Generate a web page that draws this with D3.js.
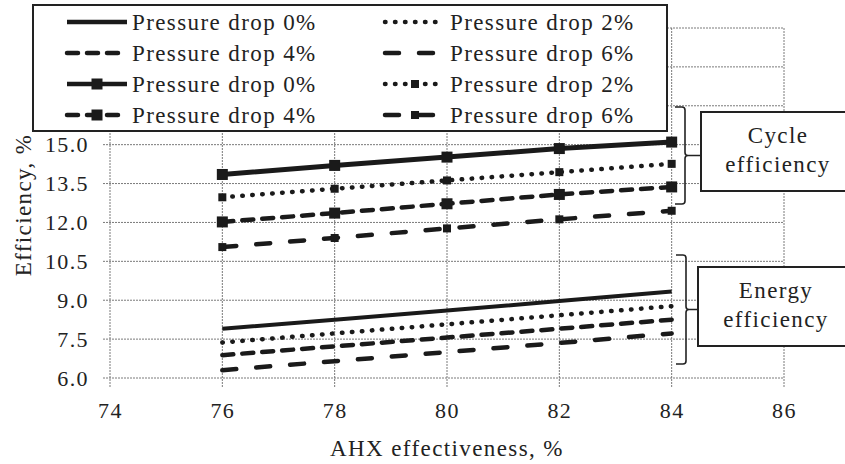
<!DOCTYPE html>
<html><head><meta charset="utf-8">
<script src="https://cdn.jsdelivr.net/npm/d3@7/dist/d3.min.js"></script>
<style>
html,body{margin:0;padding:0;background:#fff;}
svg{display:block;}
svg text{font-family:"Liberation Serif","Times New Roman",Times,serif !important;letter-spacing:1.4px;}
</style></head>
<body><svg id="c" width="845" height="464"></svg>
<script>
// ---- data ----
const xValues = [76, 78, 80, 82, 84];
const xTicks = [74, 76, 78, 80, 82, 84, 86];
const yTicks = [6.0, 7.5, 9.0, 10.5, 12.0, 13.5, 15.0, 16.5, 18.0, 19.5];
const seriesLabels = ["Pressure drop 0%", "Pressure drop 2%", "Pressure drop 4%", "Pressure drop 6%"];
const cycle0 = [13.85, 14.2, 14.52, 14.85, 15.1];
const cycle2 = [12.97, 13.3, 13.62, 13.94, 14.26];
const cycle4 = [12.02, 12.36, 12.72, 13.08, 13.37];
const cycle6 = [11.05, 11.4, 11.77, 12.12, 12.45];
const energy0 = [7.9, 8.25, 8.6, 8.97, 9.34];
const energy2 = [7.37, 7.72, 8.07, 8.42, 8.77];
const energy4 = [6.88, 7.22, 7.56, 7.9, 8.25];
const energy6 = [6.3, 6.65, 7.0, 7.35, 7.72];
const xTitle = "AHX effectiveness, %";
const yTitle = "Efficiency, %";

// ---- styles ----
const FONT = '"Liberation Serif","Times New Roman",Times,serif';
const dashes = ["", "0.5,9.5", "11,9", "14,20"];
const markerSizes = [11, 8, 11, 8];

const svg = d3.select("#c");
const x = d3.scaleLinear().domain([74, 86]).range([110, 784]);
const y = d3.scaleLinear().domain([6, 19.5]).range([378, 28]);

// grid (dotted, with tick extensions)
const grid = svg.append("g").attr("stroke", "#7a7a7a").attr("stroke-width", 1).attr("stroke-dasharray", "2,1");
grid.selectAll("line.v").data(xTicks).join("line")
  .attr("x1", d => x(d)).attr("x2", d => x(d))
  .attr("y1", y(19.5)).attr("y2", y(6) + 9);
grid.selectAll("line.h").data(yTicks).join("line")
  .attr("y1", d => y(d)).attr("y2", d => y(d))
  .attr("x1", x(74) - 7).attr("x2", x(86));

// axes labels via d3 axes
const xAxis = svg.append("g").attr("transform", `translate(0,${y(6)})`)
  .call(d3.axisBottom(x).tickValues(xTicks).tickFormat(d3.format("d")).tickSize(0).tickPadding(24));
xAxis.attr("font-family", FONT);
xAxis.select(".domain").remove();
xAxis.selectAll("text").attr("font-size", 22).attr("fill", "#222");

const yAxis = svg.append("g").attr("transform", `translate(${x(74)},0)`)
  .call(d3.axisLeft(y).tickValues(yTicks).tickFormat(d3.format(".1f")).tickSize(0).tickPadding(21));
yAxis.attr("font-family", FONT);
yAxis.select(".domain").remove();
yAxis.selectAll("text").attr("font-size", 22).attr("fill", "#222");

// titles
svg.append("text").attr("x", 447).attr("y", 456).attr("text-anchor", "middle")
  .attr("font-size", 23).attr("fill", "#222").text(xTitle);
svg.append("text").attr("transform", "translate(31,205) rotate(-90)").attr("text-anchor", "middle")
  .attr("font-size", 23).attr("fill", "#222").text(yTitle);

// lines
const line = d3.line().x((d, i) => x(xValues[i])).y(d => y(d));
const energySeries = [energy0, energy2, energy4, energy6];
const cycleSeries = [cycle0, cycle2, cycle4, cycle6];

energySeries.forEach((s, k) => {
  svg.append("path").datum(s).attr("d", line).attr("fill", "none")
    .attr("stroke", "#1a1a1a").attr("stroke-width", k === 0 ? 4 : 4.5)
    .attr("stroke-linecap", k === 0 ? "butt" : "round")
    .attr("stroke-dasharray", dashes[k] || null);
});
cycleSeries.forEach((s, k) => {
  svg.append("path").datum(s).attr("d", line).attr("fill", "none")
    .attr("stroke", "#1a1a1a").attr("stroke-width", k === 0 ? 5 : 4.5)
    .attr("stroke-linecap", k === 0 ? "butt" : "round")
    .attr("stroke-dasharray", dashes[k] || null);
  const m = markerSizes[k];
  svg.append("g").selectAll("rect").data(s).join("rect")
    .attr("x", (d, i) => x(xValues[i]) - m / 2).attr("y", d => y(d) - m / 2)
    .attr("width", m).attr("height", m).attr("fill", "#1a1a1a");
});

// brackets and boxes
function bracket(xl, xv, xm, y0, y1) {
  const ym = (y0 + y1) / 2, r = 3;
  const p = d3.path();
  p.moveTo(xl, y0); p.lineTo(xv - r, y0); p.quadraticCurveTo(xv, y0, xv, y0 + r);
  p.lineTo(xv, ym - r); p.quadraticCurveTo(xv, ym, xv + r, ym); p.lineTo(xm, ym);
  p.moveTo(xv + r, ym); p.quadraticCurveTo(xv, ym, xv, ym + r);
  p.lineTo(xv, y1 - r); p.quadraticCurveTo(xv, y1, xv - r, y1); p.lineTo(xl, y1);
  svg.append("path").attr("d", p.toString()).attr("fill", "none").attr("stroke", "#222").attr("stroke-width", 1.6);
}
bracket(675, 685, 700, 107, 204);
bracket(676, 686, 698, 255, 364);

function box(x0, y0, y1, lines, cx, base) {
  svg.append("rect").attr("x", x0).attr("y", y0).attr("width", 200).attr("height", y1 - y0)
    .attr("fill", "#fff").attr("stroke", "#222").attr("stroke-width", 2);
  lines.forEach((t, i) => svg.append("text").attr("x", cx).attr("y", base + i * 29)
    .attr("text-anchor", "middle").attr("font-size", 23).attr("fill", "#222").text(t));
}
box(701, 112, 191, ["Cycle", "efficiency"], 778, 143);
box(698, 267, 346, ["Energy", "efficiency"], 776, 298);

// legend
const lg = svg.append("g");
lg.append("rect").attr("x", 33).attr("y", 5).attr("width", 634).attr("height", 126)
  .attr("fill", "#fff").attr("stroke", "#222").attr("stroke-width", 2);
const legendItems = [];
[0, 1, 2, 3].forEach(k => legendItems.push({k, marker: false}));
[0, 1, 2, 3].forEach(k => legendItems.push({k, marker: true}));
legendItems.forEach((it, i) => {
  const col = i % 2, row = Math.floor(i / 2);
  const x0 = col === 0 ? 67 : 385, x1 = x0 + 60, yy = 22 + row * 31;
  lg.append("line").attr("x1", x0).attr("x2", x1).attr("y1", yy).attr("y2", yy)
    .attr("stroke", "#1a1a1a").attr("stroke-width", 4.5)
    .attr("stroke-linecap", it.k === 0 ? "butt" : "round")
    .attr("stroke-dasharray", dashes[it.k] || null);
  if (it.marker) {
    const m = markerSizes[it.k];
    lg.append("rect").attr("x", (x0 + x1) / 2 - m / 2).attr("y", yy - m / 2)
      .attr("width", m).attr("height", m).attr("fill", "#1a1a1a");
  }
  lg.append("text").attr("x", x1 + 5).attr("y", yy + 8).attr("font-size", 23).attr("fill", "#222")
    .text(seriesLabels[it.k]);
});
</script>
</body></html>
